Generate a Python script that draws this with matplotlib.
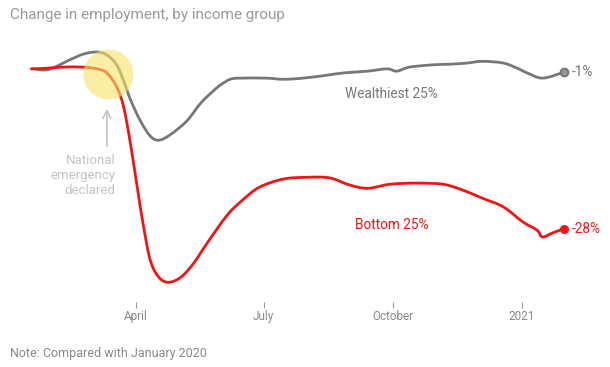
import numpy as np
import pandas as pd
import matplotlib
matplotlib.use("Agg")
import matplotlib.pyplot as plt
import matplotlib.dates as mdates
from matplotlib.path import Path
from matplotlib.patches import PathPatch

plt.rcParams["font.family"] = ["Roboto", "DejaVu Sans"]

GRAY = "#777777"
RED = "#f01414"
LIGHT = "#c4c4c4"

# change in employment vs January 2020, percent
wealth_dates = [
    "2020-01-18", "2020-01-27", "2020-02-03", "2020-02-13", "2020-02-24",
    "2020-03-04", "2020-03-11", "2020-03-18", "2020-03-23", "2020-03-28",
    "2020-04-04", "2020-04-11", "2020-04-17", "2020-04-25", "2020-05-07",
    "2020-05-17", "2020-05-26", "2020-05-31", "2020-06-07", "2020-06-14",
    "2020-07-03", "2020-07-15", "2020-07-29", "2020-08-15", "2020-08-27",
    "2020-09-13", "2020-09-27", "2020-10-04", "2020-10-13", "2020-10-30",
    "2020-11-11", "2020-11-23", "2020-12-04", "2020-12-19", "2020-12-29",
    "2021-01-05", "2021-01-16", "2021-01-31",
]
wealth_vals = [
    -0.4, -0.6, -0.1, 1.1, 2.2,
    2.5, 2.0, 0.3, -2.5, -5.8,
    -9.4, -12.0, -12.7, -11.8, -9.4,
    -6.3, -4.2, -3.2, -2.2, -2.0,
    -2.0, -2.2, -2.0, -1.5, -1.1,
    -0.8, -0.4, -0.8, -0.1, 0.3,
    0.4, 0.6, 0.9, 0.6, -0.3,
    -1.1, -2.0, -1.0,
]

bottom_dates = [
    "2020-01-17", "2020-01-28", "2020-02-08", "2020-02-23", "2020-03-04",
    "2020-03-11", "2020-03-18", "2020-03-23", "2020-03-28", "2020-04-02",
    "2020-04-06", "2020-04-11", "2020-04-17", "2020-04-24", "2020-05-03",
    "2020-05-12", "2020-05-22", "2020-06-05", "2020-06-16", "2020-06-28",
    "2020-07-15", "2020-08-01", "2020-08-17", "2020-08-31", "2020-09-13",
    "2020-09-29", "2020-10-18", "2020-11-06", "2020-11-20", "2020-12-04",
    "2020-12-19", "2021-01-02", "2021-01-12", "2021-01-16", "2021-01-23",
    "2021-01-31",
]
bottom_vals = [
    -0.4, -0.3, -0.1, -0.1, -0.4,
    -1.1, -3.5, -7.0, -13.5, -21.3,
    -27.3, -33.4, -36.3, -37.2, -36.3,
    -33.9, -30.3, -25.6, -23.0, -20.8,
    -19.4, -19.1, -19.2, -20.4, -21.0,
    -20.3, -20.1, -20.3, -21.3, -22.7,
    -24.2, -26.8, -28.2, -29.4, -28.7,
    -28.0,
]

tick_dates = ["2020-04-01", "2020-07-01", "2020-10-01", "2021-01-01"]
tick_labels = ["April", "July", "October", "2021"]

emergency_date = "2020-03-12"


def smooth_path(x, y):
    # cardinal (catmull-rom) curve through the points, as cubic bezier segments
    p = np.column_stack([x, y])
    ext = np.vstack([p[0], p, p[-1]])
    verts = [p[0]]
    codes = [Path.MOVETO]
    for i in range(len(p) - 1):
        a, b, c, d = ext[i], ext[i + 1], ext[i + 2], ext[i + 3]
        verts += [b + (c - a) / 6, c - (d - b) / 6, c]
        codes += [Path.CURVE4] * 3
    return Path(verts, codes)


wd = pd.to_datetime(wealth_dates)
bd = pd.to_datetime(bottom_dates)

fig = plt.figure(figsize=(6.1, 3.67), dpi=100)
ax = fig.add_axes([20 / 610, 65 / 367, 580 / 610, 272 / 367])

for d, v, c in [(wd, wealth_vals, GRAY), (bd, bottom_vals, RED)]:
    path = smooth_path(mdates.date2num(d), np.array(v))
    ax.add_patch(PathPatch(path, fc="none", ec=c, lw=2.0, capstyle="round",
                           joinstyle="round", zorder=3))

# end markers and labels
ax.plot(wd[-1], wealth_vals[-1], "o", ms=5.5, mfc="#999999", mec=GRAY, mew=1.5, zorder=4)
ax.plot(bd[-1], bottom_vals[-1], "o", ms=5.5, color=RED, zorder=4)
ax.annotate(f"{wealth_vals[-1]:.0f}%", (wd[-1], wealth_vals[-1]), xytext=(6, 0),
            textcoords="offset points", va="center", ha="left", fontsize=9.8, color=GRAY)
ax.annotate(f"{bottom_vals[-1]:.0f}%", (bd[-1], bottom_vals[-1]), xytext=(6, 0),
            textcoords="offset points", va="center", ha="left", fontsize=9.8, color=RED)

ax.text(pd.Timestamp("2020-09-30"), -4.8, "Wealthiest 25%", ha="center", va="center",
        fontsize=9.8, color=GRAY)
ax.text(pd.Timestamp("2020-09-30"), -27.4, "Bottom 25%", ha="center", va="center",
        fontsize=9.8, color=RED)

# national emergency highlight
em = pd.Timestamp(emergency_date)
ax.scatter([em], [-1.3], s=1300, color="#f7e36a", alpha=0.6, lw=0, zorder=5)
ax.annotate("", xy=(em - pd.Timedelta(days=1), -6.8), xytext=(em - pd.Timedelta(days=1), -14.2),
            arrowprops=dict(arrowstyle="->", color=LIGHT, lw=1.2, mutation_scale=14))
ax.text(em + pd.Timedelta(days=5), -15.0, "National\nemergency\ndeclared", ha="right", va="top",
        fontsize=9.5, color=LIGHT, linespacing=1.2)

ax.set_xlim(pd.Timestamp("2020-01-09"), pd.Timestamp("2021-02-26"))
ax.set_ylim(-40.6, 6.3)
ax.set_xticks(pd.to_datetime(tick_dates))
ax.set_xticklabels(tick_labels)
ax.tick_params(axis="x", direction="out", length=4, width=0.8, color="#999999",
               labelcolor="#888888", labelsize=8.5, pad=2)
ax.set_yticks([])
for s in ax.spines.values():
    s.set_visible(False)

fig.text(10 / 610, 1 - 15 / 367, "Change in employment, by income group", ha="left", va="center",
         fontsize=11, color="#999999")
fig.text(10 / 610, 1 - 353 / 367, "Note: Compared with January 2020", ha="left", va="center",
         fontsize=9, color="#888888")

fig.savefig("out.png", dpi=100)
